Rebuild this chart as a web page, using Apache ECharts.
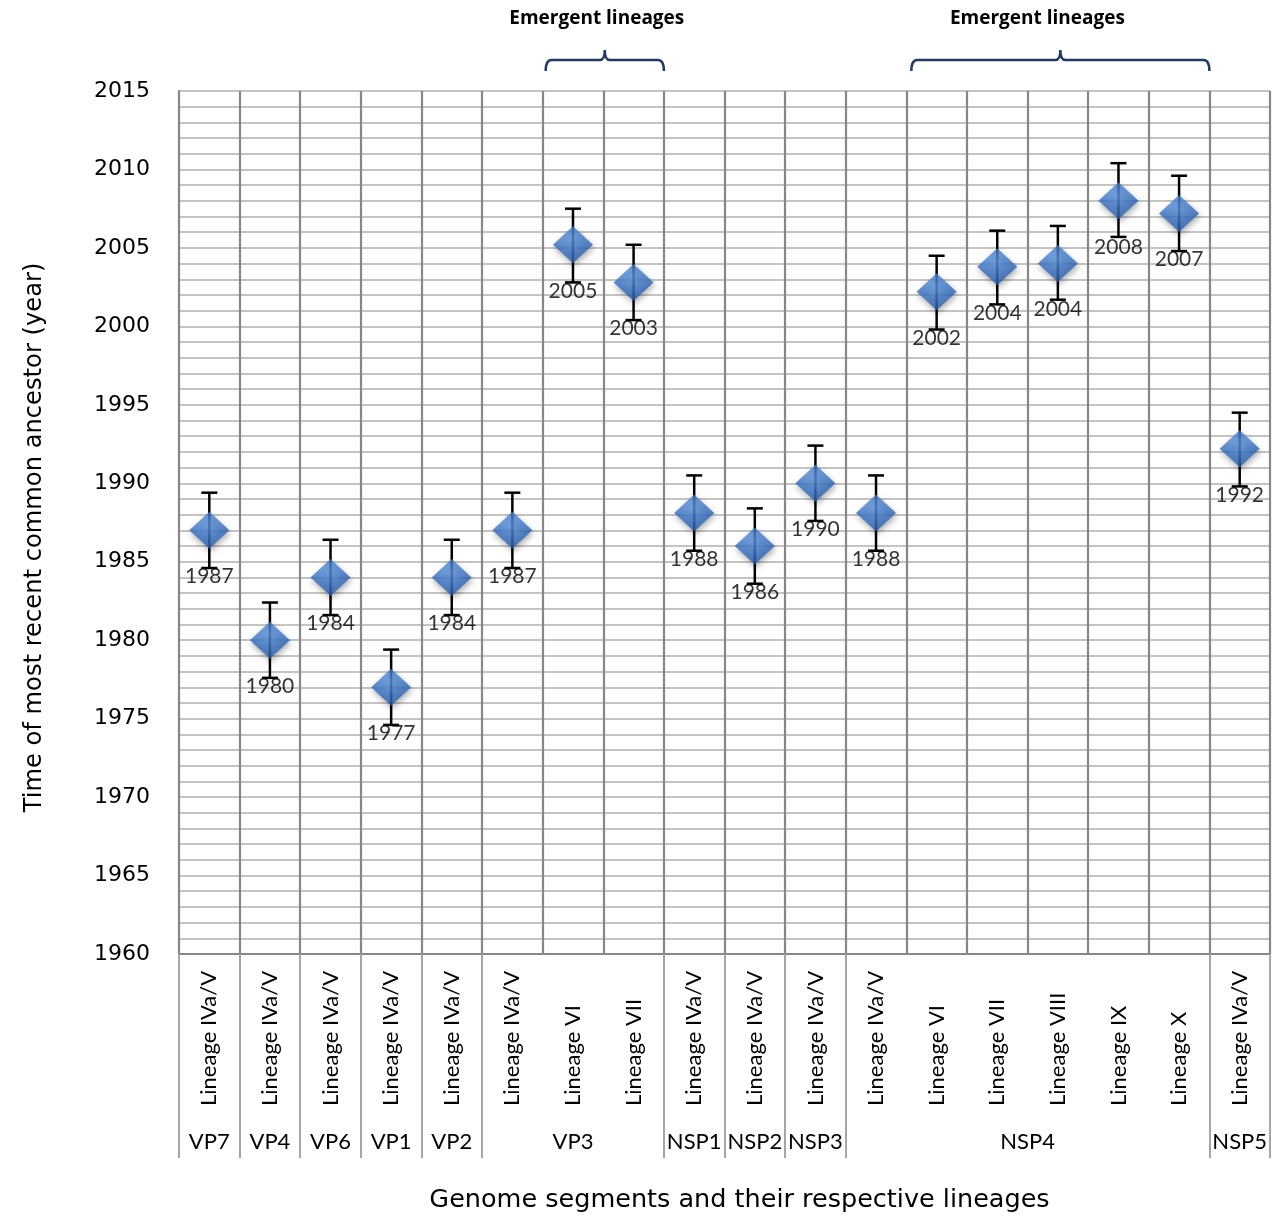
<!DOCTYPE html>
<html>
<head>
<meta charset="utf-8">
<script src="https://cdn.jsdelivr.net/npm/echarts@6/dist/echarts.min.js"></script>
<style>
  html, body { margin: 0; padding: 0; background: #fff; }
  #chart { width: 1276px; height: 1218px; }
</style>
</head>
<body>
<div id="chart"></div>
<script>
// lineage on each column, left to right
const lineages = [
  "Lineage IVa/V", "Lineage IVa/V", "Lineage IVa/V", "Lineage IVa/V", "Lineage IVa/V",
  "Lineage IVa/V", "Lineage VI", "Lineage VII",
  "Lineage IVa/V", "Lineage IVa/V", "Lineage IVa/V",
  "Lineage IVa/V", "Lineage VI", "Lineage VII", "Lineage VIII", "Lineage IX", "Lineage X",
  "Lineage IVa/V"
]
// genome segments and how many columns each one covers
const segments = ["VP7", "VP4", "VP6", "VP1", "VP2", "VP3", "NSP1", "NSP2", "NSP3", "NSP4", "NSP5"]
const segmentSizes = [1, 1, 1, 1, 1, 3, 1, 1, 1, 6, 1]

// tMRCA estimates (year) with error bar ends
const tmrca = [1987.0, 1980.0, 1984.0, 1977.0, 1984.0, 1987.0, 2005.2, 2002.8, 1988.1, 1986.0, 1990.0, 1988.1, 2002.2, 2003.8, 2004.0, 2008.0, 2007.2, 1992.2]
const lower = [1984.6, 1977.6, 1981.6, 1974.6, 1981.6, 1984.6, 2002.8, 2000.4, 1985.7, 1983.6, 1987.6, 1985.7, 1999.8, 2001.4, 2001.7, 2005.7, 2004.8, 1989.8]
const upper = [1989.4, 1982.4, 1986.4, 1979.4, 1986.4, 1989.4, 2007.5, 2005.2, 1990.5, 1988.4, 1992.4, 1990.5, 2004.5, 2006.1, 2006.4, 2010.4, 2009.6, 1994.5]
const pointLabels = ["1987", "1980", "1984", "1977", "1984", "1987", "2005", "2003", "1988", "1986", "1990", "1988", "2002", "2004", "2004", "2008", "2007", "1992"]

// emergent lineage brackets: first and last column index
const emergentRanges = [[6, 7], [12, 16]]
const emergentText = "Emergent lineages"

// boundaries and centres of the segment groups, in column units
const segmentEdges = [0]
segmentSizes.forEach((n, i) => segmentEdges.push(segmentEdges[i] + n))
const segmentCentres = segmentSizes.map((n, i) => segmentEdges[i] + n / 2)

const chart = echarts.init(document.getElementById("chart"), null, { renderer: "canvas" })

const gridColor = "#c4c4c4"
const colColor = "#878787"

const option = {
  animation: false,
  grid: { left: 179, right: 6, top: 91, bottom: 264, outerBoundsMode: "none" },
  xAxis: [
    {
      type: "category",
      data: lineages,
      boundaryGap: true,
      axisLine: { show: true, lineStyle: { color: colColor, width: 2 } },
      axisTick: { show: false },
      splitLine: { show: true, interval: 0, lineStyle: { color: colColor, width: 2.2 } },
      axisLabel: {
        interval: 0,
        rotate: 90,
        align: "left",
        verticalAlign: "middle",
        margin: 152,
        fontFamily: "Lato",
        fontSize: 22,
        color: "#000",
      },
      name: "Genome segments and their respective lineages",
      nameLocation: "middle",
      nameGap: 233,
      nameTextStyle: { fontFamily: "DejaVu Sans", fontSize: 25.5, color: "#000", padding: [0, 0, 0, 30] },
    },
    {
      type: "value",
      min: 0,
      max: 18,
      position: "bottom",
      axisLine: { show: false },
      splitLine: { show: false },
      axisTick: {
        show: true,
        customValues: segmentEdges,
        length: 204,
        lineStyle: { color: "#a6a6a6", width: 2 },
      },
      axisLabel: {
        customValues: segmentCentres,
        margin: 177,
        fontFamily: "Lato",
        fontSize: 22,
        color: "#000",
        formatter: (v) => {
          const i = segmentCentres.findIndex((c) => Math.abs(c - v) < 1e-6)
          return i >= 0 ? segments[i] : ""
        },
      },
    },
  ],
  yAxis: {
    type: "value",
    min: 1960,
    max: 2015,
    interval: 5,
    axisLine: { show: true, lineStyle: { color: colColor, width: 2 } },
    axisTick: { show: false },
    splitLine: { show: true, lineStyle: { color: gridColor, width: 2 } },
    minorTick: { show: false, splitNumber: 5 },
    minorSplitLine: { show: true, lineStyle: { color: gridColor, width: 2 } },
    axisLabel: { margin: 29, fontFamily: "DejaVu Sans", fontSize: 22, color: "#000", formatter: (v) => String(v) },
    name: "Time of most recent common ancestor (year)",
    nameLocation: "middle",
    nameGap: 132,
    nameTextStyle: { fontFamily: "DejaVu Sans", fontSize: 24.2, color: "#000", padding: [0, 30, 0, 0] },
  },
  series: [
    {
      // error bars
      type: "custom",
      xAxisIndex: 0,
      z: 2,
      data: lineages.map((_, i) => [i, lower[i], upper[i]]),
      renderItem: (params, api) => {
        const lo = api.coord([api.value(0), api.value(1)])
        const hi = api.coord([api.value(0), api.value(2)])
        const cap = 8
        const st = { stroke: "#000", lineWidth: 2.5 }
        return {
          type: "group",
          children: [
            { type: "line", shape: { x1: lo[0], y1: lo[1], x2: hi[0], y2: hi[1] }, style: st },
            { type: "line", shape: { x1: lo[0] - cap, y1: lo[1], x2: lo[0] + cap, y2: lo[1] }, style: st },
            { type: "line", shape: { x1: hi[0] - cap, y1: hi[1], x2: hi[0] + cap, y2: hi[1] }, style: st },
          ],
        }
      },
    },
    {
      type: "scatter",
      xAxisIndex: 0,
      z: 3,
      data: tmrca,
      symbol: "diamond",
      symbolSize: [40, 37],
      itemStyle: {
        color: new echarts.graphic.RadialGradient(0.45, 0.35, 0.75, [
          { offset: 0, color: "#5f98e2" },
          { offset: 0.5, color: "#3a72c4" },
          { offset: 1, color: "#22549b" },
        ]),
        shadowBlur: 6,
        shadowOffsetX: 1,
        shadowOffsetY: 3,
        shadowColor: "rgba(0,0,0,0.4)",
      },
      label: {
        show: true,
        position: "bottom",
        distance: 17,
        fontFamily: "Lato",
        fontSize: 21,
        color: "#000",
        formatter: (p) => pointLabels[p.dataIndex],
      },
    },
    {
      // "Emergent lineages" brackets above the plot
      type: "custom",
      xAxisIndex: 0,
      clip: false,
      z: 4,
      data: emergentRanges,
      renderItem: (params, api) => {
        const bw = api.size([1, 0])[0]
        const a = api.coord([api.value(0), 2015])
        const b = api.coord([api.value(1), 2015])
        const left = a[0] - bw / 2 + (params.dataIndex === 0 ? 3 : 5)
        const right = b[0] + bw / 2
        const top = a[1]
        const yb = top - 31
        const yEnd = top - 20
        const cx = (left + right) / 2
        const r = 6
        const path =
          `M${left},${yEnd} Q${left},${yb} ${left + r},${yb} L${cx - 5},${yb} ` +
          `Q${cx},${yb} ${cx},${yb - 10} Q${cx},${yb} ${cx + 5},${yb} ` +
          `L${right - r},${yb} Q${right},${yb} ${right},${yEnd}`
        return {
          type: "group",
          children: [
            { type: "path", shape: { pathData: path }, style: { stroke: "#1f3b66", lineWidth: 2.5, fill: null } },
            {
              type: "text",
              x: cx - (params.dataIndex === 0 ? 8 : 23),
              y: 19,
              style: {
                text: emergentText,
                fontFamily: "Open Sans",
                fontWeight: "bold",
                fontSize: 19,
                fill: "#000",
                align: "center",
                verticalAlign: "middle",
              },
            },
          ],
        }
      },
    },
  ],
}

chart.setOption(option)
</script>
</body>
</html>
